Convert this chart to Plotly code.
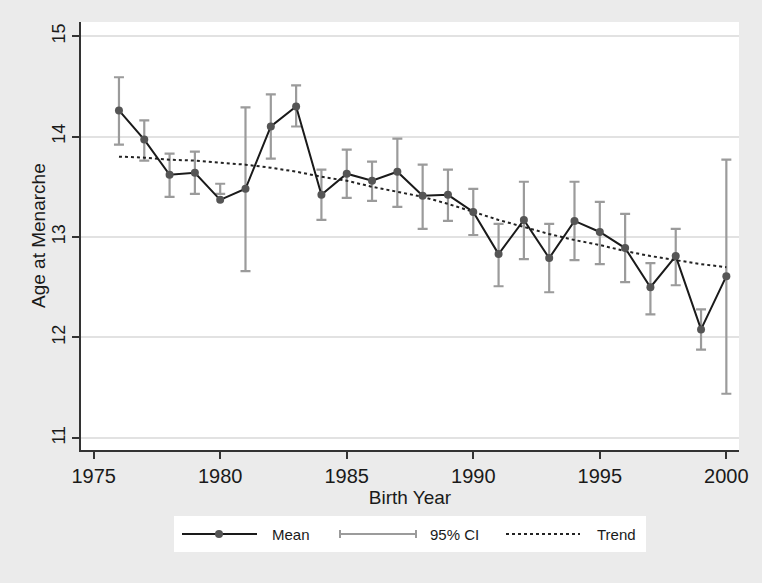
import plotly.graph_objects as go

years = list(range(1976, 2001))
mean_age = [14.26, 13.97, 13.62, 13.64, 13.37, 13.48, 14.10, 14.30, 13.42, 13.63,
            13.56, 13.65, 13.41, 13.42, 13.25, 12.83, 13.17, 12.79, 13.16, 13.05,
            12.89, 12.50, 12.81, 12.08, 12.61]
ci_upper = [14.59, 14.16, 13.83, 13.85, 13.53, 14.29, 14.42, 14.51, 13.67, 13.87,
            13.75, 13.98, 13.72, 13.67, 13.48, 13.13, 13.55, 13.13, 13.55, 13.35,
            13.23, 12.74, 13.08, 12.28, 13.77]
ci_lower = [13.92, 13.76, 13.40, 13.43, 13.43, 12.66, 13.78, 14.10, 13.17, 13.39,
            13.36, 13.30, 13.08, 13.16, 13.02, 12.51, 12.78, 12.45, 12.77, 12.73,
            12.55, 12.23, 12.52, 11.88, 11.44]
trend = [13.80, 13.79, 13.77, 13.76, 13.74, 13.72, 13.69, 13.65, 13.60, 13.56,
         13.50, 13.45, 13.40, 13.33, 13.25, 13.17, 13.10, 13.03, 12.97, 12.92,
         12.86, 12.81, 12.77, 12.73, 12.70]
x_ticks = [1975, 1980, 1985, 1990, 1995, 2000]
y_ticks = [11, 12, 13, 14, 15]

W, H = 762, 583
L, R, T, B = 81, 23, 22, 133
PW, PH = W - L - R, H - T - B

def px(x):
    return (x - L) / PW

def py(y):
    return (H - B - y) / PH

FONT = "Liberation Sans, Arial, Helvetica, sans-serif"

ci_mid = [(u + l) / 2 for u, l in zip(ci_upper, ci_lower)]
ci_half = [(u - l) / 2 for u, l in zip(ci_upper, ci_lower)]

fig = go.Figure()
fig.add_trace(go.Scatter(
    x=years, y=ci_mid, mode="markers",
    marker=dict(size=1, color="rgba(0,0,0,0)"),
    error_y=dict(type="data", array=ci_half, symmetric=True,
                 color="#9b9b9b", thickness=2.2, width=5),
    showlegend=False, hoverinfo="skip"))
fig.add_trace(go.Scatter(
    x=years, y=trend, mode="lines",
    line=dict(color="#222222", width=2, dash="dot"),
    showlegend=False))
fig.add_trace(go.Scatter(
    x=years, y=mean_age, mode="lines+markers",
    line=dict(color="#1a1a1a", width=2),
    marker=dict(size=8, color="#555555"),
    showlegend=False))

shapes = []
annotations = []
# legend box
shapes.append(dict(type="rect", xref="paper", yref="paper",
                   x0=px(174), x1=px(646), y0=py(552), y1=py(516),
                   fillcolor="white", line=dict(width=0), layer="above"))
ly = py(534)
shapes.append(dict(type="line", xref="paper", yref="paper",
                   x0=px(182), x1=px(257), y0=ly, y1=ly,
                   line=dict(color="#1a1a1a", width=2)))
shapes.append(dict(type="circle", xref="paper", yref="paper",
                   x0=px(215), x1=px(223), y0=py(538), y1=py(530),
                   fillcolor="#555555", line=dict(width=0)))
shapes.append(dict(type="line", xref="paper", yref="paper",
                   x0=px(340), x1=px(416), y0=ly, y1=ly,
                   line=dict(color="#9b9b9b", width=2)))
for cx in (340, 416):
    shapes.append(dict(type="line", xref="paper", yref="paper",
                       x0=px(cx), x1=px(cx), y0=py(538), y1=py(530),
                       line=dict(color="#9b9b9b", width=2)))
shapes.append(dict(type="line", xref="paper", yref="paper",
                   x0=px(506), x1=px(580), y0=ly, y1=ly,
                   line=dict(color="#222222", width=2, dash="dot")))
for txt, x0 in (("Mean", 270), ("95% CI", 428), ("Trend", 595)):
    annotations.append(dict(text=txt, xref="paper", yref="paper",
                            x=px(x0), y=ly, xanchor="left", yanchor="middle",
                            showarrow=False,
                            font=dict(family=FONT, size=15, color="#1a1a1a")))
# y axis title
annotations.append(dict(text="Age at Menarche", xref="paper", yref="paper",
                        x=px(38), y=py(236), xanchor="center", yanchor="middle",
                        textangle=-90, showarrow=False,
                        font=dict(family=FONT, size=19, color="#1a1a1a")))

fig.update_layout(
    width=W, height=H,
    margin=dict(l=L, r=R, t=T, b=B),
    paper_bgcolor="#ebebeb", plot_bgcolor="white",
    font=dict(family=FONT, size=18, color="#1a1a1a"),
    shapes=shapes, annotations=annotations,
    showlegend=False,
)
fig.update_xaxes(
    range=[1974.5, 2000.5], tickvals=x_ticks, ticktext=[str(v) for v in x_ticks],
    showgrid=False, zeroline=False,
    showline=True, linecolor="#333333", linewidth=1.5,
    ticks="outside", ticklen=7, tickcolor="#333333", tickwidth=1.5,
    tickfont=dict(size=20),
    title=dict(text="Birth Year", font=dict(size=19), standoff=2),
)
fig.update_yaxes(
    range=[10.88, 15.14], tickvals=y_ticks, ticktext=[str(v) for v in y_ticks],
    showgrid=True, gridcolor="#e2e2e2", gridwidth=1.5, zeroline=False,
    showline=True, linecolor="#333333", linewidth=1.5,
    ticks="outside", ticklen=7, tickcolor="#333333", tickwidth=1.5,
    tickangle=-90, tickfont=dict(size=18),
)

fig.write_html("out.html", config={"displayModeBar": False},
               post_script="document.body.style.margin='0';")
